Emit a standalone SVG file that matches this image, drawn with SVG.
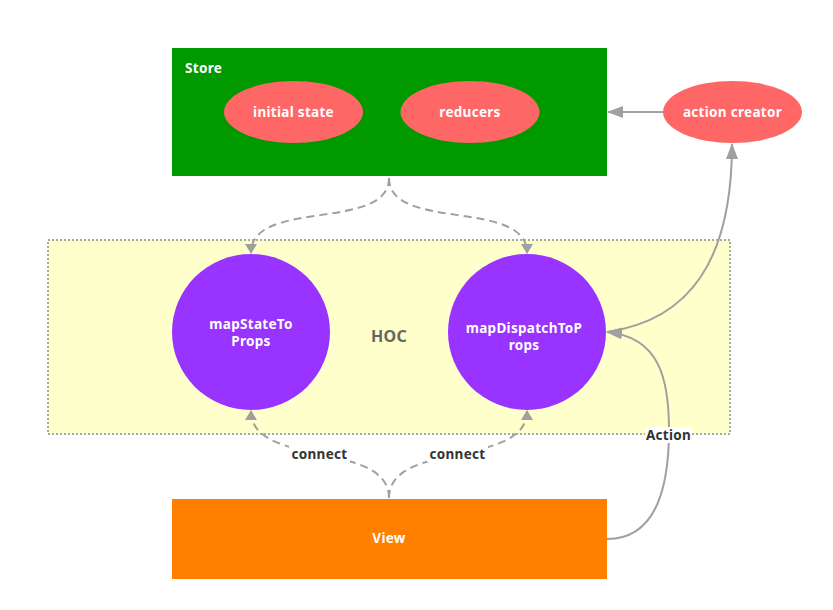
<svg xmlns="http://www.w3.org/2000/svg" width="833" height="610" viewBox="0 0 833 610">
<defs>
<marker id="ah" viewBox="0 0 10 12" refX="9" refY="6" markerWidth="10" markerHeight="12" markerUnits="userSpaceOnUse" orient="auto">
<path d="M0,0 L10,6 L0,12 z" fill="#A0A0A0"/>
</marker>
<marker id="ah2" viewBox="0 0 16 12" refX="15" refY="6" markerWidth="16" markerHeight="12" markerUnits="userSpaceOnUse" orient="auto">
<path d="M0,0 L16,6 L0,12 z" fill="#A0A0A0"/>
</marker>
<style>
text{font-family:"Noto Sans","Open Sans","DejaVu Sans",sans-serif;font-weight:bold;font-size:13.5px;letter-spacing:0.3px}
.w{fill:#ffffff}
.lbl{fill:#333333}
.c{fill:none;stroke:#A0A0A0;stroke-width:2}
.d{stroke-dasharray:8 5}
</style>
</defs>
<rect width="833" height="610" fill="#ffffff"/>
<g id="hoc">
<rect x="48" y="240" width="682" height="194" fill="#FFFFCC" stroke="#A8A8A8" stroke-width="2" stroke-dasharray="2 2"/>
<text x="389" y="342" text-anchor="middle" style="font-size:16px" fill="#666666">HOC</text>
</g>
<g id="store">
<rect x="172" y="48" width="435" height="128" fill="#009900"/>
<text x="185" y="73" class="w">Store</text>
</g>
<g id="initial-state">
<ellipse cx="293.5" cy="112" rx="69.5" ry="31" fill="#FF6666"/>
<text x="293.5" y="117" text-anchor="middle" class="w">initial state</text>
</g>
<g id="reducers">
<ellipse cx="470" cy="112" rx="69.5" ry="31" fill="#FF6666"/>
<text x="470" y="117" text-anchor="middle" class="w">reducers</text>
</g>
<g id="action-creator">
<ellipse cx="732.5" cy="112" rx="69.5" ry="31" fill="#FF6666"/>
<text x="732.5" y="117" text-anchor="middle" class="w">action creator</text>
</g>
<g id="mapStateToProps">
<ellipse cx="251" cy="332" rx="79" ry="78" fill="#9933FF"/>
<text x="251" y="329" text-anchor="middle" class="w">mapStateTo</text>
<text x="251" y="346" text-anchor="middle" class="w">Props</text>
</g>
<g id="mapDispatchToProps">
<ellipse cx="527" cy="332" rx="79" ry="78" fill="#9933FF"/>
<text x="524" y="333" text-anchor="middle" class="w">mapDispatchToP</text>
<text x="524" y="350" text-anchor="middle" class="w">rops</text>
</g>
<g id="view">
<rect x="172" y="499" width="435" height="80" fill="#FF8000"/>
<text x="389" y="543" text-anchor="middle" class="w">View</text>
</g>
<g id="connectors">
<path class="c d" d="M389,178 C389,232 251,198 251,253" marker-end="url(#ah)"/>
<path class="c d" d="M389,178 C389,232 527,198 527,253" marker-end="url(#ah)"/>
<path class="c d" d="M389,498 C389,440 251,468 251,411" marker-end="url(#ah)"/>
<path class="c d" d="M389,498 C389,440 527,468 527,411" marker-end="url(#ah)"/>
<rect x="289" y="446" width="61" height="16" fill="#ffffff"/>
<text x="319.5" y="459" text-anchor="middle" class="lbl">connect</text>
<rect x="427" y="446" width="61" height="16" fill="#ffffff"/>
<text x="457.5" y="459" text-anchor="middle" class="lbl">connect</text>
<path class="c" d="M663,112 L608,112" marker-end="url(#ah2)"/>
<path class="c" d="M607,332 C690,320 732,260 732,144" marker-end="url(#ah2)"/>
<path class="c" d="M607,539 C660,539 669,480 669,430 C669,380 660,337 607,332" marker-end="url(#ah2)"/>
<rect x="645" y="427" width="47" height="16" fill="#ffffff"/>
<text x="668.5" y="440" text-anchor="middle" class="lbl">Action</text>
</g>
</svg>
